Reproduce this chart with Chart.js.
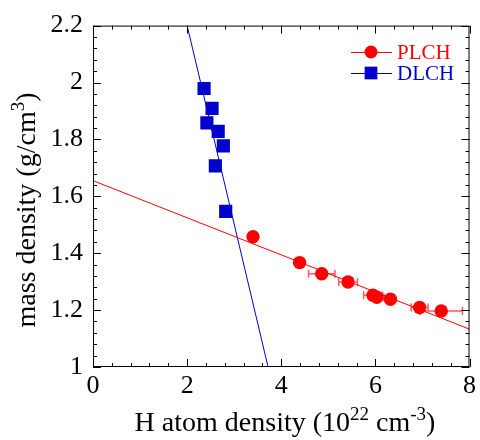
<!DOCTYPE html>
<html>
<head>
<meta charset="utf-8">
<script src="https://cdn.jsdelivr.net/npm/chart.js@4.4.1/dist/chart.umd.min.js"></script>
<style>
  html, body { margin: 0; padding: 0; background: #fff; }
  #wrap { width: 480px; height: 440px; }
</style>
</head>
<body>
<div id="wrap"><canvas id="chart" width="480" height="440"></canvas></div>
<script>
// PLCH (red circles)
const plchX = [3.40, 4.39, 4.86, 5.42, 5.95, 6.03, 6.32, 6.94, 7.40];
const plchY = [1.458, 1.367, 1.328, 1.299, 1.252, 1.245, 1.238, 1.209, 1.197];
const plchXErr = [0, 0, 0.28, 0.2, 0.2, 0.15, 0, 0.18, 0.45];

// DLCH (blue squares)
const dlchX = [2.36, 2.53, 2.42, 2.66, 2.77, 2.60, 2.82];
const dlchY = [1.979, 1.909, 1.858, 1.828, 1.777, 1.707, 1.547];

// linear fits (end points)
const plchFitX = [0, 8];
const plchFitY = [1.655, 1.133];
const dlchFitX = [2.0, 3.72];
const dlchFitY = [2.2, 1.0];

const xTicks = [0, 2, 4, 6, 8];
const yTicks = [1, 1.2, 1.4, 1.6, 1.8, 2, 2.2];

const RED = '#ff0000';
const BLUE = '#0000cc';
const FONT = "'Liberation Serif', serif";

Chart.defaults.font.family = FONT;
Chart.defaults.color = '#000';

const toPts = (xs, ys) => xs.map((x, i) => ({ x: x, y: ys[i] }));

// draws frame, inward ticks on all sides, error bars, titles and legend
const decor = {
    id: 'decor',
    beforeDatasetsDraw(chart) {
        const ctx = chart.ctx;
        const xs = chart.scales.x, ys = chart.scales.y;
        ctx.save();
        ctx.strokeStyle = '#ff5a5a';
        ctx.lineWidth = 1.5;
        plchX.forEach((x, i) => {
            const e = plchXErr[i];
            if (!e) return;
            const py = ys.getPixelForValue(plchY[i]);
            const a = xs.getPixelForValue(x - e), b = xs.getPixelForValue(x + e);
            ctx.beginPath();
            ctx.moveTo(a, py); ctx.lineTo(b, py);
            ctx.moveTo(a, py - 4); ctx.lineTo(a, py + 4);
            ctx.moveTo(b, py - 4); ctx.lineTo(b, py + 4);
            ctx.stroke();
        });
        ctx.restore();
    },
    afterDraw(chart) {
        const ctx = chart.ctx;
        const a = chart.chartArea;
        const xs = chart.scales.x, ys = chart.scales.y;
        ctx.save();
        ctx.strokeStyle = '#000';
        ctx.lineWidth = 1;
        ctx.strokeRect(a.left + 0.5, a.top + 0.5, a.right - a.left - 1, a.bottom - a.top - 1);

        // ticks
        ctx.beginPath();
        for (let i = 0; i <= 20; i++) {
            const px = Math.round(xs.getPixelForValue(i * 0.4)) + 0.5;
            const len = i % 5 === 0 ? 8 : 4;
            ctx.moveTo(px, a.bottom); ctx.lineTo(px, a.bottom - len);
            ctx.moveTo(px, a.top); ctx.lineTo(px, a.top + len);
        }
        for (let i = 0; i <= 30; i++) {
            const py = Math.round(ys.getPixelForValue(1 + i * 0.04)) + 0.5;
            const len = i % 5 === 0 ? 8 : 4;
            ctx.moveTo(a.left, py); ctx.lineTo(a.left + len, py);
            ctx.moveTo(a.right, py); ctx.lineTo(a.right - len, py);
        }
        ctx.stroke();

        // axis titles with superscripts
        ctx.fillStyle = '#000';
        ctx.textBaseline = 'alphabetic';
        const big = '28px ' + FONT, sup = '19px ' + FONT;
        function drawParts(parts, cx, cy) {
            let w = 0;
            parts.forEach(p => { ctx.font = p[1] ? sup : big; w += ctx.measureText(p[0]).width; });
            let x = cx - w / 2;
            parts.forEach(p => {
                ctx.font = p[1] ? sup : big;
                ctx.fillText(p[0], x, cy - (p[1] ? 11 : 0));
                x += ctx.measureText(p[0]).width;
            });
        }
        drawParts([['H atom density (10', 0], ['22', 1], [' cm', 0], ['-3', 1], [')', 0]],
            285, 431);
        ctx.save();
        ctx.translate(35, 210);
        ctx.rotate(-Math.PI / 2);
        drawParts([['mass density (g/cm', 0], ['3', 1], [')', 0]], 0, 0);
        ctx.restore();

        // legend
        const rows = [
            { label: 'PLCH', color: RED, style: 'circle', r: 6.5, y: 52 },
            { label: 'DLCH', color: BLUE, style: 'rect', r: 9, y: 73 }
        ];
        ctx.font = '21px ' + FONT;
        ctx.textBaseline = 'middle';
        rows.forEach(row => {
            ctx.strokeStyle = row.color;
            ctx.fillStyle = row.color;
            ctx.beginPath();
            ctx.moveTo(351, row.y + 0.5); ctx.lineTo(392, row.y + 0.5);
            ctx.stroke();
            Chart.helpers.drawPoint(ctx, { pointStyle: row.style, radius: row.r, borderWidth: 0 }, 371, row.y);
            ctx.fillStyle = row.color;
            ctx.fillText(row.label, 397, row.y + 1);
        });
        ctx.restore();
    }
};

function drawChart() {
    new Chart(document.getElementById('chart'), {
        type: 'scatter',
        data: {
            datasets: [{
                label: 'PLCH',
                data: toPts(plchX, plchY),
                backgroundColor: RED,
                borderColor: RED,
                borderWidth: 0,
                pointStyle: 'circle',
                pointRadius: 6.7
            }, {
                label: 'DLCH',
                data: toPts(dlchX, dlchY),
                backgroundColor: BLUE,
                borderColor: BLUE,
                borderWidth: 0,
                pointStyle: 'rect',
                pointRadius: 9.3
            }, {
                label: 'PLCH fit',
                type: 'line',
                data: toPts(plchFitX, plchFitY),
                borderColor: RED,
                borderWidth: 1,
                pointRadius: 0,
                fill: false
            }, {
                label: 'DLCH fit',
                type: 'line',
                data: toPts(dlchFitX, dlchFitY),
                borderColor: BLUE,
                borderWidth: 1,
                pointRadius: 0,
                fill: false
            }]
        },
        options: {
            responsive: false,
            animation: false,
            events: [],
            layout: { padding: { top: 24, right: 9, left: 0, bottom: 0 } },
            plugins: {
                legend: { display: false },
                tooltip: { enabled: false }
            },
            scales: {
                x: {
                    type: 'linear',
                    min: 0, max: 8,
                    afterBuildTicks: s => { s.ticks = xTicks.map(v => ({ value: v })); },
                    afterFit: s => { s.height = 73; },
                    grid: { display: false, drawTicks: false },
                    border: { display: false },
                    ticks: {
                        color: '#000', padding: 4, maxRotation: 0,
                        font: { family: FONT, size: 26 },
                        callback: v => String(+v.toFixed(1))
                    }
                },
                y: {
                    type: 'linear',
                    min: 1, max: 2.2,
                    afterBuildTicks: s => { s.ticks = yTicks.map(v => ({ value: v })); },
                    afterFit: s => { s.width = 93; },
                    grid: { display: false, drawTicks: false },
                    border: { display: false },
                    ticks: {
                        color: '#000', padding: 10,
                        font: { family: FONT, size: 26 },
                        callback: v => String(+v.toFixed(1))
                    }
                }
            }
        },
        plugins: [decor]
    });
}

// make sure the serif face is ready before the canvas uses it
Promise.all([
    document.fonts.load("26px 'Liberation Serif'"),
    document.fonts.load("19px 'Liberation Serif'")
]).then(drawChart, drawChart);
</script>
</body>
</html>
